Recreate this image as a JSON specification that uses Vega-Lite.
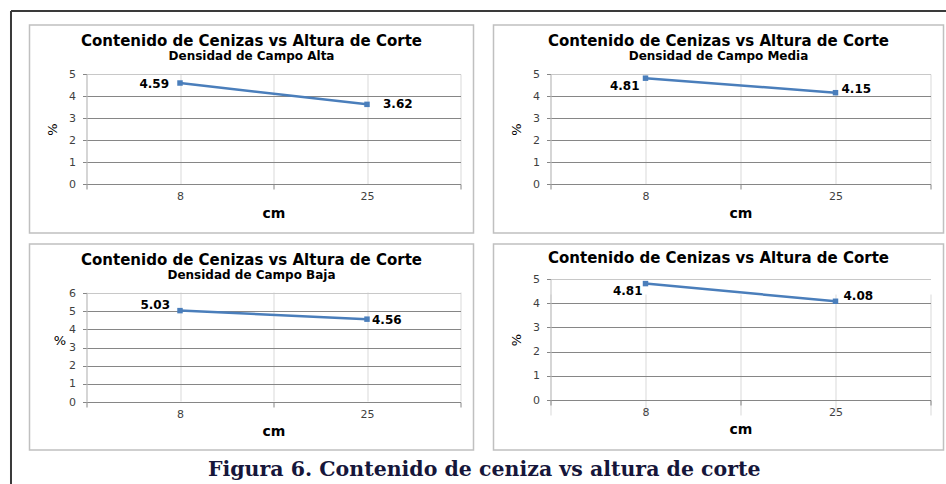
{
  "$schema": "https://vega.github.io/schema/vega-lite/v6.json",
  "background": "white",
  "autosize": {"type": "pad"},
  "padding": {"left": 8.5, "top": 9, "right": 0, "bottom": 0},
  "datasets": {
    "ceniza": [
      {"densidad": "Alta", "cm": 8, "ceniza": 4.59},
      {"densidad": "Alta", "cm": 25, "ceniza": 3.62},
      {"densidad": "Media", "cm": 8, "ceniza": 4.81},
      {"densidad": "Media", "cm": 25, "ceniza": 4.15},
      {"densidad": "Baja", "cm": 8, "ceniza": 5.03},
      {"densidad": "Baja", "cm": 25, "ceniza": 4.56},
      {"densidad": "General", "cm": 8, "ceniza": 4.81},
      {"densidad": "General", "cm": 25, "ceniza": 4.08}
    ]
  },
  "title": {
    "text": "Figura 6. Contenido de ceniza vs altura de corte",
    "orient": "bottom",
    "anchor": "middle",
    "frame": "bounds",
    "font": "DejaVu Serif",
    "fontSize": 20.5,
    "fontWeight": "bold",
    "color": "#16163a",
    "baseline": "alphabetic",
    "offset": -11,
    "dx": 5
  },
  "concat": [
    {
      "width": 444,
      "height": 208,
      "title": {"text": "Contenido de Cenizas vs Altura de Corte", "subtitle": "Densidad de Campo Alta", "offset": -52},
      "data": {"name": "ceniza"},
      "transform": [{"filter": "datum.densidad === 'Alta'"}],
      "layer": [
        {
          "mark": {"type": "line", "color": "#4a7ebb", "strokeWidth": 2.5},
          "encoding": {
            "x": {"field": "cm", "type": "quantitative",
              "scale": {"domain": [-0.5, 33.5], "range": [57, 431], "nice": false, "zero": false},
              "axis": {"values": [-0.5, 8, 16.5, 25, 33.5], "title": "cm", "offset": -49,
                "tickColor": {"condition": {"test": "datum.value == 8 || datum.value == 25", "value": "transparent"}, "value": "#868686"},
                "labelExpr": "datum.value == 8 || datum.value == 25 ? datum.label : ''"}},
            "y": {"field": "ceniza", "type": "quantitative",
              "scale": {"domain": [0, 5], "range": [159, 49], "nice": false},
              "axis": {"values": [0, 1, 2, 3, 4, 5], "format": "d", "title": "%", "offset": -57,
                "gridColor": {"condition": {"test": "datum.value == 5", "value": "#c8c8c8"}, "value": "#868686"}}}
          }
        },
        {
          "mark": {"type": "point", "shape": "square", "filled": true, "size": 30, "color": "#4a7ebb", "opacity": 1},
          "encoding": {"x": {"field": "cm", "type": "quantitative"}, "y": {"field": "ceniza", "type": "quantitative"}}
        },
        {
          "transform": [{"filter": "datum.cm == 8"}],
          "mark": {"type": "text", "align": "right", "baseline": "middle", "dx": -11, "dy": 1},
          "encoding": {"x": {"field": "cm", "type": "quantitative"}, "y": {"field": "ceniza", "type": "quantitative"}, "text": {"field": "ceniza", "type": "quantitative", "format": ".2f"}}
        },
        {
          "transform": [{"filter": "datum.cm == 25"}],
          "mark": {"type": "text", "align": "left", "baseline": "middle", "dx": 16, "dy": 0},
          "encoding": {"x": {"field": "cm", "type": "quantitative"}, "y": {"field": "ceniza", "type": "quantitative"}, "text": {"field": "ceniza", "type": "quantitative", "format": ".2f"}}
        },
        {
          "data": {"values": [{}]},
          "mark": {"type": "rule", "color": "#3a3a3a", "strokeWidth": 2},
          "encoding": {
            "x": {"datum": -7.364, "type": "quantitative", "title": "cm"},
            "x2": {"datum": 77.77},
            "y": {"datum": 7.864, "type": "quantitative", "title": "%"}
          }
        },
        {
          "data": {"values": [{}]},
          "mark": {"type": "rule", "color": "#3a3a3a", "strokeWidth": 2},
          "encoding": {
            "x": {"datum": -7.364, "type": "quantitative", "title": "cm"},
            "y": {"datum": 7.864, "type": "quantitative", "title": "%"},
            "y2": {"datum": -13.68}
          }
        }
      ]
    },
    {
      "width": 450,
      "height": 208,
      "title": {"text": "Contenido de Cenizas  vs Altura de Corte", "subtitle": "Densidad de Campo Media", "offset": -37},
      "data": {"name": "ceniza"},
      "transform": [{"filter": "datum.densidad === 'Media'"}],
      "layer": [
        {
          "mark": {"type": "line", "color": "#4a7ebb", "strokeWidth": 2.5},
          "encoding": {
            "x": {"field": "cm", "type": "quantitative",
              "scale": {"domain": [-0.5, 33.5], "range": [57, 437], "nice": false, "zero": false},
              "axis": {"values": [-0.5, 8, 16.5, 25, 33.5], "title": "cm", "offset": -49,
                "tickColor": {"condition": {"test": "datum.value == 8 || datum.value == 25", "value": "transparent"}, "value": "#868686"},
                "labelExpr": "datum.value == 8 || datum.value == 25 ? datum.label : ''"}},
            "y": {"field": "ceniza", "type": "quantitative",
              "scale": {"domain": [0, 5], "range": [159, 49], "nice": false},
              "axis": {"values": [0, 1, 2, 3, 4, 5], "format": "d", "title": "%", "offset": -57,
                "gridColor": {"condition": {"test": "datum.value == 5", "value": "#c8c8c8"}, "value": "#868686"}}}
          }
        },
        {
          "mark": {"type": "point", "shape": "square", "filled": true, "size": 30, "color": "#4a7ebb", "opacity": 1},
          "encoding": {"x": {"field": "cm", "type": "quantitative"}, "y": {"field": "ceniza", "type": "quantitative"}}
        },
        {
          "transform": [{"filter": "datum.cm == 8"}],
          "mark": {"type": "text", "align": "right", "baseline": "middle", "dx": -6, "dy": 8},
          "encoding": {"x": {"field": "cm", "type": "quantitative"}, "y": {"field": "ceniza", "type": "quantitative"}, "text": {"field": "ceniza", "type": "quantitative", "format": ".2f"}}
        },
        {
          "transform": [{"filter": "datum.cm == 25"}],
          "mark": {"type": "text", "align": "left", "baseline": "middle", "dx": 6, "dy": -4},
          "encoding": {"x": {"field": "cm", "type": "quantitative"}, "y": {"field": "ceniza", "type": "quantitative"}, "text": {"field": "ceniza", "type": "quantitative", "format": ".2f"}}
        }
      ]
    },
    {
      "width": 444,
      "height": 206,
      "title": {"text": "Contenido de Cenizas  vs Altura de Corte", "subtitle": "Densidad de Campo Baja", "offset": -37},
      "data": {"name": "ceniza"},
      "transform": [{"filter": "datum.densidad === 'Baja'"}],
      "layer": [
        {
          "mark": {"type": "line", "color": "#4a7ebb", "strokeWidth": 2.5},
          "encoding": {
            "x": {"field": "cm", "type": "quantitative",
              "scale": {"domain": [-0.5, 33.5], "range": [57, 431], "nice": false, "zero": false},
              "axis": {"values": [-0.5, 8, 16.5, 25, 33.5], "title": "cm", "offset": -48,
                "tickColor": {"condition": {"test": "datum.value == 8 || datum.value == 25", "value": "transparent"}, "value": "#868686"},
                "labelExpr": "datum.value == 8 || datum.value == 25 ? datum.label : ''"}},
            "y": {"field": "ceniza", "type": "quantitative",
              "scale": {"domain": [0, 6], "range": [158, 49], "nice": false},
              "axis": {"values": [0, 1, 2, 3, 4, 5, 6], "format": "d", "title": "%", "offset": -57, "titleAngle": 0,
                "gridColor": {"condition": {"test": "datum.value == 6", "value": "#c8c8c8"}, "value": "#868686"}}}
          }
        },
        {
          "mark": {"type": "point", "shape": "square", "filled": true, "size": 30, "color": "#4a7ebb", "opacity": 1},
          "encoding": {"x": {"field": "cm", "type": "quantitative"}, "y": {"field": "ceniza", "type": "quantitative"}}
        },
        {
          "transform": [{"filter": "datum.cm == 8"}],
          "mark": {"type": "text", "align": "right", "baseline": "middle", "dx": -10, "dy": -6},
          "encoding": {"x": {"field": "cm", "type": "quantitative"}, "y": {"field": "ceniza", "type": "quantitative"}, "text": {"field": "ceniza", "type": "quantitative", "format": ".2f"}}
        },
        {
          "transform": [{"filter": "datum.cm == 25"}],
          "mark": {"type": "text", "align": "left", "baseline": "middle", "dx": 5, "dy": 1},
          "encoding": {"x": {"field": "cm", "type": "quantitative"}, "y": {"field": "ceniza", "type": "quantitative"}, "text": {"field": "ceniza", "type": "quantitative", "format": ".2f"}}
        }
      ]
    },
    {
      "width": 450,
      "height": 206,
      "title": {"text": "Contenido de Cenizas  vs Altura de Corte", "offset": -22},
      "data": {"name": "ceniza"},
      "transform": [{"filter": "datum.densidad === 'General'"}],
      "layer": [
        {
          "mark": {"type": "line", "color": "#4a7ebb", "strokeWidth": 2.5},
          "encoding": {
            "x": {"field": "cm", "type": "quantitative",
              "scale": {"domain": [-0.5, 33.5], "range": [57, 437], "nice": false, "zero": false},
              "axis": {"values": [-0.5, 8, 16.5, 25, 33.5], "title": "cm", "offset": -50,
                "tickColor": {"condition": {"test": "datum.value == 8 || datum.value == 25", "value": "transparent"}, "value": "#868686"},
                "labelExpr": "datum.value == 8 || datum.value == 25 ? datum.label : ''"}},
            "y": {"field": "ceniza", "type": "quantitative",
              "scale": {"domain": [0, 5], "range": [156, 35], "nice": false},
              "axis": {"values": [0, 1, 2, 3, 4, 5], "format": "d", "title": "%", "offset": -57,
                "gridColor": {"condition": {"test": "datum.value == 5", "value": "#c8c8c8"}, "value": "#868686"}}}
          }
        },
        {
          "mark": {"type": "point", "shape": "square", "filled": true, "size": 30, "color": "#4a7ebb", "opacity": 1},
          "encoding": {"x": {"field": "cm", "type": "quantitative"}, "y": {"field": "ceniza", "type": "quantitative"}}
        },
        {
          "transform": [{"filter": "datum.cm == 8"}],
          "mark": {"type": "text", "align": "right", "baseline": "middle", "dx": -3, "dy": 7.5},
          "encoding": {"x": {"field": "cm", "type": "quantitative"}, "y": {"field": "ceniza", "type": "quantitative"}, "text": {"field": "ceniza", "type": "quantitative", "format": ".2f"}}
        },
        {
          "transform": [{"filter": "datum.cm == 25"}],
          "mark": {"type": "text", "align": "left", "baseline": "middle", "dx": 8, "dy": -5},
          "encoding": {"x": {"field": "cm", "type": "quantitative"}, "y": {"field": "ceniza", "type": "quantitative"}, "text": {"field": "ceniza", "type": "quantitative", "format": ".2f"}}
        }
      ]
    }
  ],
  "columns": 2,
  "spacing": {"row": 11, "column": 20},
  "bounds": "flush",
  "config": {
    "view": {"stroke": "#c0c0c0", "strokeWidth": 1.5},
    "font": "DejaVu Sans",
    "text": {"font": "DejaVu Sans", "fontWeight": "bold", "fontSize": 12, "color": "#000000"},
    "title": {
      "font": "DejaVu Sans", "fontSize": 15, "fontWeight": "bold", "color": "#000000",
      "subtitleFont": "DejaVu Sans", "subtitleFontSize": 12, "subtitleFontWeight": "bold",
      "subtitleColor": "#000000", "subtitlePadding": 2, "frame": "group", "anchor": "middle"
    },
    "axis": {
      "labelFont": "DejaVu Sans", "labelFontSize": 11, "labelColor": "#3f3f3f",
      "titleFont": "DejaVu Sans", "titleColor": "#000000",
      "tickColor": "#868686", "domainColor": "#868686", "domainWidth": 1, "tickWidth": 1
    },
    "axisX": {
      "grid": true, "gridColor": "#d9d9d9", "gridWidth": 1, "tickSize": 5,
      "labelPadding": 1, "labelFlush": false, "labelOverlap": false,
      "titleFontSize": 14, "titleFontWeight": "bold", "titlePadding": 5
    },
    "axisY": {
      "grid": true, "gridWidth": 1, "tickSize": 4, "labelPadding": 7, "tickCount": 10,
      "domainColor": "#bfbfbf", "titleFontSize": 13, "titleFontWeight": "normal", "titlePadding": 9
    }
  }
}
